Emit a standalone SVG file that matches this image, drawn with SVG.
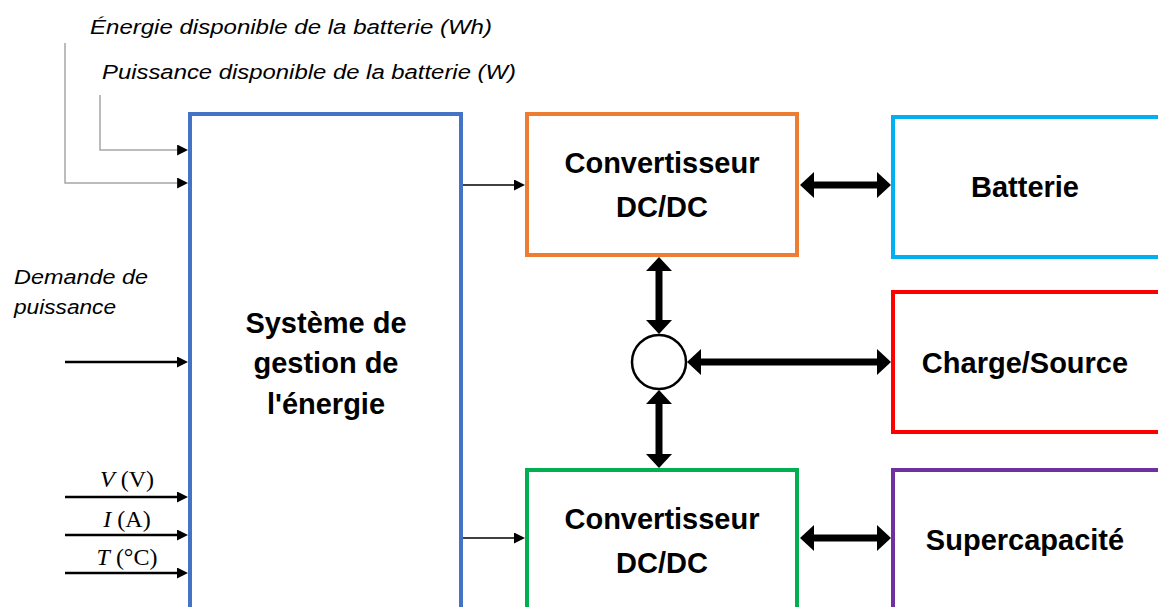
<svg xmlns="http://www.w3.org/2000/svg" width="1158" height="607" viewBox="0 0 1158 607">
<style>
.box{fill:#fff;stroke-width:4}
.t{font-family:"Liberation Sans",Arial,sans-serif;font-weight:bold;font-size:29px;fill:#000;text-anchor:middle}
.it{font-family:"Liberation Sans",Arial,sans-serif;font-style:italic;font-size:20px;fill:#000}
.tm{font-family:"Liberation Serif","Times New Roman",serif;font-size:24px;fill:#000;text-anchor:middle}
.thick{stroke:#000;stroke-width:7;fill:none}
.thin{stroke:#000;stroke-width:1.5;fill:none}
.in{stroke:#000;stroke-width:2.5;fill:none}
.gray{stroke:#a6a6a6;stroke-width:1.5;fill:none}
</style>
<defs>
<marker id="big" markerUnits="userSpaceOnUse" markerWidth="14" markerHeight="26" refX="0" refY="13" orient="auto-start-reverse" viewBox="0 0 14 26">
<path d="M0,0 L14,13 L0,26 z" fill="#000"/>
</marker>
<marker id="sm" markerUnits="userSpaceOnUse" markerWidth="11" markerHeight="11" refX="0" refY="5.5" orient="auto" viewBox="0 0 11 11">
<path d="M0,0 L11,5.5 L0,11 z" fill="#000"/>
</marker>
</defs>
<rect width="1158" height="607" fill="#fff"/>

<g id="labels-inputs">
<text class="it" x="90" y="34" textLength="402" lengthAdjust="spacingAndGlyphs">Énergie disponible de la batterie (Wh)</text>
<text class="it" x="102" y="79" textLength="414" lengthAdjust="spacingAndGlyphs">Puissance disponible de la batterie (W)</text>
<text class="it" x="14" y="284" textLength="134" lengthAdjust="spacingAndGlyphs">Demande de</text>
<text class="it" x="14" y="314" textLength="102" lengthAdjust="spacingAndGlyphs">puissance</text>
<text class="tm" x="127" y="487"><tspan font-style="italic">V</tspan> (V)</text>
<text class="tm" x="127" y="527"><tspan font-style="italic">I</tspan> (A)</text>
<text class="tm" x="127" y="565"><tspan font-style="italic">T</tspan> (°C)</text>
</g>

<g id="ems">
<rect class="box" x="190" y="114" width="271" height="520" stroke="#4472C4"/>
<text class="t" x="326" y="333">Système de</text>
<text class="t" x="326" y="373">gestion de</text>
<text class="t" x="326" y="414">l'énergie</text>
</g>

<g id="conv1">
<rect class="box" x="527" y="114" width="270" height="141" stroke="#ED7D31"/>
<text class="t" x="662" y="173">Convertisseur</text>
<text class="t" x="662" y="217">DC/DC</text>
</g>

<g id="conv2">
<rect class="box" x="527" y="470" width="270" height="200" stroke="#00B050"/>
<text class="t" x="662" y="529">Convertisseur</text>
<text class="t" x="662" y="573">DC/DC</text>
</g>

<g id="batterie">
<rect class="box" x="893" y="117" width="290" height="140" stroke="#00B0F0"/>
<text class="t" x="1025" y="197">Batterie</text>
</g>

<g id="charge">
<rect class="box" x="893" y="292" width="290" height="140" stroke="#FF0000"/>
<text class="t" x="1025" y="373">Charge/Source</text>
</g>

<g id="supercap">
<rect class="box" x="893" y="470" width="290" height="200" stroke="#7030A0"/>
<text class="t" x="1025" y="550">Supercapacité</text>
</g>

<g id="noeud">
<circle cx="659" cy="362" r="27" fill="#fff" stroke="#000" stroke-width="2.5"/>
</g>

<g id="connectors">
<path class="gray" d="M65,43 V183 H177"/>
<path class="gray" d="M100,95 V150 H177"/>
<line class="thin" x1="177" y1="150" x2="177.1" y2="150" marker-end="url(#sm)"/>
<line class="thin" x1="177" y1="183" x2="177.1" y2="183" marker-end="url(#sm)"/>
<line class="in" x1="65" y1="362" x2="177" y2="362" marker-end="url(#sm)"/>
<line class="in" x1="65" y1="497" x2="177" y2="497" marker-end="url(#sm)"/>
<line class="in" x1="65" y1="535" x2="177" y2="535" marker-end="url(#sm)"/>
<line class="in" x1="65" y1="573" x2="177" y2="573" marker-end="url(#sm)"/>
<line class="thin" x1="463" y1="185" x2="514" y2="185" marker-end="url(#sm)"/>
<line class="thin" x1="463" y1="538" x2="514" y2="538" marker-end="url(#sm)"/>
<line class="thick" x1="814" y1="185" x2="877" y2="185" marker-start="url(#big)" marker-end="url(#big)"/>
<line class="thick" x1="814" y1="538" x2="877" y2="538" marker-start="url(#big)" marker-end="url(#big)"/>
<line class="thick" x1="701" y1="362" x2="877" y2="362" marker-start="url(#big)" marker-end="url(#big)"/>
<line class="thick" x1="659" y1="271" x2="659" y2="320" marker-start="url(#big)" marker-end="url(#big)"/>
<line class="thick" x1="659" y1="404" x2="659" y2="454" marker-start="url(#big)" marker-end="url(#big)"/>
</g>
</svg>
